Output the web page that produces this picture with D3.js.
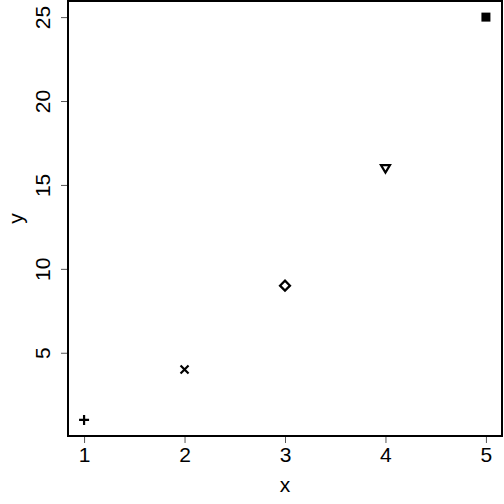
<!DOCTYPE html>
<html>
<head>
    <meta charset="utf-8">
    <title>scatter pch</title>
    <script src="https://cdn.jsdelivr.net/npm/d3@7/dist/d3.min.js"></script>
    <style>
        body { margin: 0; background: #fff; }
        text { font-family: "Liberation Sans", Arial, sans-serif; fill: #000; }
    </style>
</head>
<body>
<script type="text/javascript">
    var xs = [1, 2, 3, 4, 5];
    var ys = [1, 4, 9, 16, 25];
    var shapes = ["plus", "cross", "diamond", "triangleDown", "square"];
    var xTicks = [1, 2, 3, 4, 5];
    var yTicks = [5, 10, 15, 20, 25];

    var width = 504, height = 504,
        pLeft = 68, pRight = 502, pTop = 1, pBottom = 436;

    var x = d3.scaleLinear().domain([0.84, 5.16]).range([pLeft, pRight]);
    var y = d3.scaleLinear().domain([0.04, 25.96]).range([pBottom, pTop]);

    var svg = d3.select("body").append("svg")
        .attr("width", width).attr("height", height);

    // frame
    svg.append("rect")
        .attr("x", pLeft).attr("y", pTop)
        .attr("width", pRight - pLeft).attr("height", pBottom - pTop)
        .attr("fill", "none").attr("stroke", "#000").attr("stroke-width", 2);

    var xAxis = d3.axisBottom(x).tickValues(xTicks).tickSize(6).tickPadding(4).tickFormat(d3.format("d"));
    var gx = svg.append("g").attr("transform", "translate(0," + (pBottom + 1) + ")").call(xAxis);
    gx.select(".domain").remove();
    gx.selectAll(".tick line").attr("stroke", "#555");
    gx.selectAll(".tick text").style("font-size", "21px").attr("dy", "0.72em");

    var yAxis = d3.axisLeft(y).tickValues(yTicks).tickSize(6).tickFormat(d3.format("d"));
    var gy = svg.append("g").attr("transform", "translate(" + (pLeft - 1) + ",0)").call(yAxis);
    gy.select(".domain").remove();
    gy.selectAll(".tick line").attr("stroke", "#555");
    gy.selectAll(".tick text")
        .style("font-size", "21px")
        .attr("x", null).attr("dy", null)
        .attr("text-anchor", "middle")
        .attr("transform", "translate(-17,0) rotate(-90)");

    svg.append("text").attr("x", (pLeft + pRight) / 2).attr("y", 492)
        .attr("text-anchor", "middle").style("font-size", "21px").text("x");
    svg.append("text").attr("transform", "translate(23," + ((pTop + pBottom) / 2) + ") rotate(-90)")
        .attr("text-anchor", "middle").style("font-size", "21px").text("y");

    function markPath(s) {
        var r = 5;
        if (s === "plus") return "M" + (-r) + ",0H" + r + "M0," + (-r) + "V" + r;
        if (s === "cross") return "M-4,-4L4,4M-4,4L4,-4";
        if (s === "diamond") return "M0,-5L5,0L0,5L-5,0Z";
        if (s === "triangleDown") return "M-4.5,-3L4.5,-3L0,4.5Z";
        return "M-4.5,-4.5H4.5V4.5H-4.5Z";
    }

    svg.selectAll("path.pt")
        .data(xs.map(function(d, i) { return {x: d, y: ys[i], s: shapes[i]}; }))
        .enter().append("path")
        .attr("class", "pt")
        .attr("transform", function(d) { return "translate(" + x(d.x) + "," + y(d.y) + ")"; })
        .attr("d", function(d) { return markPath(d.s); })
        .attr("fill", function(d) { return d.s === "square" ? "#000" : "none"; })
        .attr("stroke", "#000")
        .attr("stroke-width", function(d) { return d.s === "square" ? 0 : 2.2; });
</script>
</body>
</html>
